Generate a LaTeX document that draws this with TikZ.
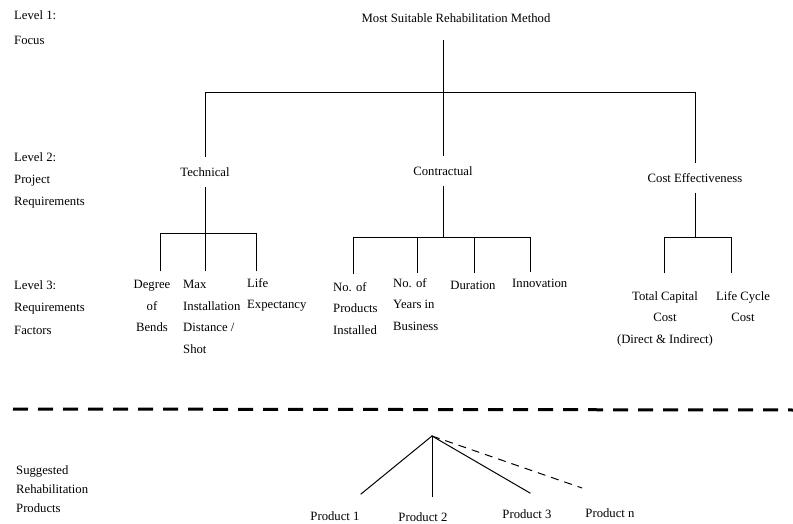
\documentclass[tikz,border=0pt]{standalone}
\usepackage{fontspec}
\setmainfont{Liberation Serif}
\begin{document}
\begin{tikzpicture}[x=1pt,y=-1pt,
  lbl/.style={inner sep=0pt,font=\fontsize{12.7}{21.5}\selectfont},
  lvl/.style={lbl,anchor=north west,align=left},
  crit/.style={inner sep=0pt,inner ysep=11pt,font=\fontsize{12.7}{14}\selectfont},
  conn/.style={line width=0.9pt,line cap=rect},
  sepline/.style={line width=3pt,dash pattern=on 15pt off 10pt},
  maybe/.style={line width=1pt,dash pattern=on 8pt off 6pt}]
\useasboundingbox[fill=white] (0,0) rectangle (793,524);

% level labels
\node[lvl,font=\fontsize{12.7}{25}\selectfont] (lev1) at (14,10.5) {Level 1:\\Focus};
\node[lvl,font=\fontsize{12.7}{22}\selectfont] (lev2) at (14,152) {Level 2:\\Project\\Requirements};
\node[lvl,font=\fontsize{12.7}{22.5}\selectfont] (lev3) at (14,280) {Level 3:\\Requirements\\Factors};
\node[lvl,font=\fontsize{12.7}{19}\selectfont] (sugg) at (16,465) {Suggested\\Rehabilitation\\Products};

% level 1
\node[lbl,inner ysep=18pt,font=\fontsize{12.7}{14}\selectfont] (top) at (456,18) {Most Suitable Rehabilitation Method};

% level 2
\node[crit] (tech) at (205,172) {Technical};
\node[crit] (contr) at (443,171) {Contractual};
\node[crit] (cost) at (695,178) {Cost Effectiveness};

\coordinate (bar1) at (443,92);
\draw[conn] (top.south -| contr.north) -- (contr.north);
\draw[conn] (tech.north) -- (tech.north |- bar1) -- (cost.north |- bar1) -- (cost.north);

% level 3 labels
\node[lbl,anchor=north,align=center] (deg) at (152,280) {Degree\\of\\Bends};
\node[lbl,anchor=north west,align=left] (max) at (183,280) {Max\\Installation\\Distance /\\Shot};
\node[lbl,anchor=north west,align=left] (life) at (247,278) {Life\\Expectancy};
\node[lbl,anchor=north west,align=left] (nprod) at (333,282) {No. of\\Products\\Installed};
\node[lbl,anchor=north west,align=left] (years) at (393,278) {No. of\\Years in\\Business};
\node[lbl,anchor=north] (dur) at (473,281) {Duration};
\node[lbl,anchor=north west] (innov) at (512,279) {Innovation};
\node[lbl,anchor=north,align=center] (tcc) at (665,291) {Total Capital\\Cost\\(Direct \& Indirect)};
\node[lbl,anchor=north,align=center] (lcc) at (743,291) {Life Cycle\\Cost};

% technical branch
\coordinate (tb) at (205,233);
\coordinate (t1) at (160,271);
\coordinate (t2) at (205,271);
\coordinate (t3) at (256,271);
\draw[conn] (tech.south) -- (t2);
\draw[conn] (t1) -- (t1 |- tb) -- (t3 |- tb) -- (t3);

% contractual branch
\coordinate (cb) at (443,237);
\coordinate (c1) at (353,274);
\coordinate (c2) at (417,273);
\coordinate (c3) at (474,273);
\coordinate (c4) at (530,272);
\draw[conn] (contr.south) -- (contr.south |- cb);
\draw[conn] (c1) -- (c1 |- cb) -- (c4 |- cb) -- (c4);
\draw[conn] (c2 |- cb) -- (c2);
\draw[conn] (c3 |- cb) -- (c3);

% cost branch
\coordinate (kb) at (695,237);
\coordinate (k1) at (664,273);
\coordinate (k2) at (731,273);
\draw[conn] (cost.south) -- (cost.south |- kb);
\draw[conn] (k1) -- (k1 |- kb) -- (k2 |- kb) -- (k2);

% separator
\coordinate (sepL) at (13,409);
\coordinate (sepR) at (793,410);
\draw[sepline] (sepL) -- (sepR);

% products
\coordinate (apex) at (432,436);
\node[lbl] (p1) at (335,516) {Product 1};
\node[lbl] (p2) at (423,517) {Product 2};
\node[lbl] (p3) at (527,514) {Product 3};
\node[lbl] (pn) at (610,513) {Product n};
\coordinate (e1) at (361,494);
\coordinate (e2) at (432,497);
\coordinate (e3) at (530,493);
\coordinate (e4) at (582,488);
\draw[conn,line width=1pt] (apex) -- (e1);
\draw[conn,line width=0.8pt] (apex) -- (e2);
\draw[conn,line width=1pt] (apex) -- (e3);
\draw[maybe] (apex) -- (e4);
\end{tikzpicture}
\end{document}
